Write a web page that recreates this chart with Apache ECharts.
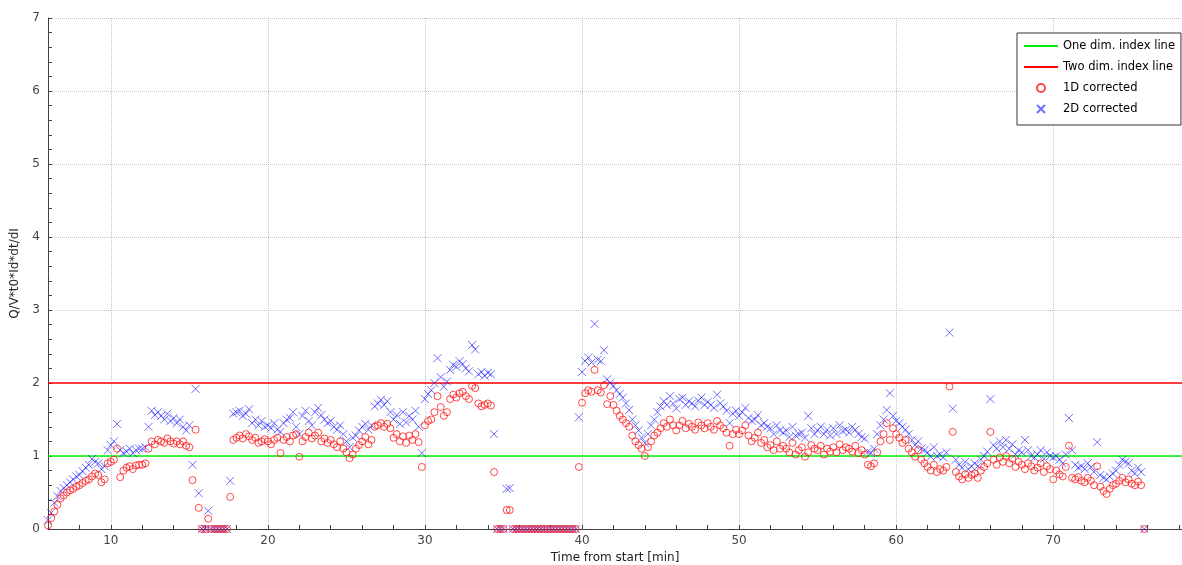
<!DOCTYPE html>
<html>
<head>
<meta charset="utf-8">
<script src="https://cdn.jsdelivr.net/npm/echarts@6/dist/echarts.min.js"></script>
<style>
html,body{margin:0;padding:0;background:#fff;overflow:hidden;}
#chart{width:1182px;height:565px;}
</style>
</head>
<body>
<div id="chart"></div>
<script>
// ---- data ----
const xRange = [6, 78.2];
const yRange = [0, 7];
const oneDimLevel = 1;
const twoDimLevel = 2;
const legendNames = ['One dim. index line', 'Two dim. index line', '1D corrected', '2D corrected'];
const xAxisTitle = 'Time from start [min]';
const yAxisTitle = 'Q/V*t0*Id*dt/dI';

const time = [
 6.0,6.2,6.4,6.6,6.8, 7.0,7.2,7.4,7.6,7.8, 8.0,8.2,8.4,8.6,8.8, 9.0,9.2,9.4,9.6,9.8,
 10.0,10.2,10.4,10.6,10.8, 11.0,11.2,11.4,11.6,11.8, 12.0,12.2,12.4,12.6,12.8, 13.0,13.2,13.4,13.6,13.8,
 14.0,14.2,14.4,14.6,14.8, 15.0,15.2,15.4,15.6,15.8, 16.0,16.2,16.4,16.6,16.8, 17.0,17.2,17.4,17.6,17.8,
 18.0,18.2,18.4,18.6,18.8, 19.0,19.2,19.4,19.6,19.8, 20.0,20.2,20.4,20.6,20.8, 21.0,21.2,21.4,21.6,21.8,
 22.0,22.2,22.4,22.6,22.8, 23.0,23.2,23.4,23.6,23.8, 24.0,24.2,24.4,24.6,24.8, 25.0,25.2,25.4,25.6,25.8,
 26.0,26.2,26.4,26.6,26.8, 27.0,27.2,27.4,27.6,27.8, 28.0,28.2,28.4,28.6,28.8, 29.0,29.2,29.4,29.6,29.8,
 30.0,30.2,30.4,30.6,30.8, 31.0,31.2,31.4,31.6,31.8, 32.0,32.2,32.4,32.6,32.8, 33.0,33.2,33.4,33.6,33.8,
 34.0,34.2,34.4,34.6,34.8, 35.0,35.2,35.4,35.6,35.8, 36.0,36.2,36.4,36.6,36.8, 37.0,37.2,37.4,37.6,37.8,
 38.0,38.2,38.4,38.6,38.8, 39.0,39.2,39.4,39.6,39.8, 40.0,40.2,40.4,40.6,40.8, 41.0,41.2,41.4,41.6,41.8,
 42.0,42.2,42.4,42.6,42.8, 43.0,43.2,43.4,43.6,43.8, 44.0,44.2,44.4,44.6,44.8, 45.0,45.2,45.4,45.6,45.8,
 46.0,46.2,46.4,46.6,46.8, 47.0,47.2,47.4,47.6,47.8, 48.0,48.2,48.4,48.6,48.8, 49.0,49.2,49.4,49.6,49.8,
 50.0,50.2,50.4,50.6,50.8, 51.0,51.2,51.4,51.6,51.8, 52.0,52.2,52.4,52.6,52.8, 53.0,53.2,53.4,53.6,53.8,
 54.0,54.2,54.4,54.6,54.8, 55.0,55.2,55.4,55.6,55.8, 56.0,56.2,56.4,56.6,56.8, 57.0,57.2,57.4,57.6,57.8,
 58.0,58.2,58.4,58.6,58.8, 59.0,59.2,59.4,59.6,59.8, 60.0,60.2,60.4,60.6,60.8, 61.0,61.2,61.4,61.6,61.8,
 62.0,62.2,62.4,62.6,62.8, 63.0,63.2,63.4,63.6,63.8, 64.0,64.2,64.4,64.6,64.8, 65.0,65.2,65.4,65.6,65.8,
 66.0,66.2,66.4,66.6,66.8, 67.0,67.2,67.4,67.6,67.8, 68.0,68.2,68.4,68.6,68.8, 69.0,69.2,69.4,69.6,69.8,
 70.0,70.2,70.4,70.6,70.8, 71.0,71.2,71.4,71.6,71.8, 72.0,72.2,72.4,72.6,72.8, 73.0,73.2,73.4,73.6,73.8,
 74.0,74.2,74.4,74.6,74.8, 75.0,75.2,75.4,75.6,75.8
];

const corrected1D = [
 0.05,0.15,0.24,0.33,0.42, 0.46,0.50,0.53,0.55,0.58, 0.60,0.63,0.66,0.68,0.72, 0.76,0.74,0.64,0.68,0.90,
 0.92,0.95,1.10,0.71,0.80, 0.84,0.86,0.82,0.87,0.88, 0.88,0.90,1.10,1.20,1.16, 1.22,1.20,1.18,1.24,1.20,
 1.17,1.20,1.16,1.20,1.14, 1.12,0.67,1.36,0.29,0.00, 0.00,0.14,0.00,0.00,0.00, 0.00,0.00,0.00,0.44,1.22,
 1.25,1.28,1.24,1.30,1.27, 1.22,1.25,1.18,1.20,1.23, 1.20,1.16,1.22,1.25,1.04, 1.22,1.26,1.20,1.28,1.30,
 0.99,1.20,1.26,1.32,1.24, 1.28,1.32,1.20,1.24,1.18, 1.22,1.16,1.12,1.20,1.10, 1.05,0.97,1.02,1.10,1.15,
 1.20,1.26,1.16,1.22,1.40, 1.42,1.45,1.40,1.44,1.38, 1.25,1.30,1.20,1.27,1.18, 1.28,1.22,1.30,1.19,0.85,
 1.42,1.48,1.50,1.60,1.82, 1.67,1.55,1.60,1.78,1.84, 1.80,1.86,1.88,1.82,1.78, 1.96,1.93,1.72,1.68,1.70,
 1.72,1.69,0.78,0.00,0.00, 0.00,0.26,0.26,0.00,0.00, 0.00,0.00,0.00,0.00,0.00, 0.00,0.00,0.00,0.00,0.00,
 0.00,0.00,0.00,0.00,0.00, 0.00,0.00,0.00,0.00,0.85, 1.73,1.86,1.90,1.88,2.18, 1.90,1.87,1.97,1.71,1.82,
 1.70,1.62,1.55,1.50,1.45, 1.40,1.28,1.20,1.15,1.10, 1.00,1.12,1.20,1.28,1.32, 1.38,1.45,1.40,1.50,1.42,
 1.35,1.42,1.48,1.38,1.44, 1.40,1.36,1.46,1.42,1.38, 1.45,1.40,1.36,1.48,1.42, 1.38,1.32,1.14,1.30,1.36,
 1.30,1.35,1.42,1.28,1.20, 1.25,1.32,1.18,1.22,1.12, 1.15,1.08,1.20,1.10,1.14, 1.10,1.05,1.18,1.02,1.08,
 1.12,0.99,1.05,1.15,1.10, 1.08,1.14,1.02,1.10,1.06, 1.12,1.05,1.16,1.08,1.12, 1.10,1.06,1.14,1.04,1.08,
 1.02,0.88,0.86,0.90,1.05, 1.20,1.30,1.45,1.22,1.38, 1.30,1.25,1.18,1.22,1.10, 1.05,0.99,1.08,0.95,0.90,
 0.85,0.80,0.88,0.78,0.82, 0.80,0.85,1.95,1.33,0.78, 0.72,0.68,0.75,0.70,0.74, 0.76,0.70,0.80,0.85,0.90,
 1.33,0.95,0.88,0.98,0.92, 1.00,0.90,0.96,0.85,0.92, 0.88,0.82,0.90,0.86,0.80, 0.84,0.90,0.78,0.86,0.82,
 0.68,0.80,0.75,0.72,0.85, 1.14,0.70,0.68,0.71,0.66, 0.64,0.70,0.66,0.60,0.86, 0.58,0.52,0.48,0.55,0.60,
 0.62,0.66,0.70,0.64,0.68, 0.62,0.60,0.65,0.60,0.00
];

const corrected2D = [
 0.12,0.22,0.36,0.45,0.52, 0.56,0.60,0.64,0.68,0.72, 0.74,0.79,0.84,0.88,0.96, 0.92,0.90,0.82,0.86,1.08,
 1.15,1.20,1.44,1.08,1.04, 1.06,1.10,1.04,1.08,1.10, 1.10,1.12,1.40,1.62,1.56, 1.60,1.55,1.50,1.58,1.48,
 1.52,1.45,1.50,1.40,1.35, 1.42,0.88,1.92,0.49,0.00, 0.00,0.25,0.00,0.00,0.00, 0.00,0.00,0.00,0.66,1.58,
 1.60,1.62,1.55,1.58,1.64, 1.45,1.50,1.42,1.48,1.40, 1.42,1.38,1.45,1.36,1.33, 1.45,1.50,1.52,1.60,1.40,
 1.30,1.55,1.62,1.48,1.42, 1.60,1.66,1.56,1.50,1.45, 1.48,1.40,1.36,1.42,1.30, 1.20,1.12,1.25,1.28,1.35,
 1.40,1.44,1.36,1.42,1.68, 1.72,1.77,1.70,1.75,1.60, 1.50,1.56,1.44,1.60,1.46, 1.55,1.50,1.62,1.40,1.04,
 1.78,1.85,1.90,2.00,2.34, 2.08,1.95,2.02,2.18,2.25, 2.22,2.30,2.26,2.20,2.16, 2.52,2.46,2.12,2.15,2.10,
 2.14,2.12,1.30,0.00,0.00, 0.00,0.55,0.56,0.00,0.00, 0.00,0.00,0.00,0.00,0.00, 0.00,0.00,0.00,0.00,0.00,
 0.00,0.00,0.00,0.00,0.00, 0.00,0.00,0.00,0.00,1.53, 2.15,2.30,2.35,2.28,2.81, 2.32,2.30,2.45,2.05,2.00,
 1.96,1.90,1.85,1.80,1.72, 1.63,1.50,1.42,1.35,1.25, 1.18,1.30,1.42,1.50,1.60, 1.68,1.75,1.70,1.82,1.72,
 1.65,1.78,1.80,1.70,1.75, 1.72,1.68,1.76,1.80,1.70, 1.74,1.70,1.66,1.84,1.72, 1.68,1.62,1.45,1.58,1.62,
 1.55,1.60,1.66,1.52,1.48, 1.50,1.56,1.42,1.45,1.40, 1.38,1.30,1.42,1.35,1.32, 1.35,1.26,1.40,1.28,1.30,
 1.32,1.25,1.55,1.38,1.30, 1.35,1.40,1.30,1.36,1.28, 1.38,1.30,1.42,1.34,1.36, 1.32,1.40,1.36,1.30,1.26,
 1.24,1.06,1.04,1.10,1.30, 1.42,1.50,1.63,1.86,1.55, 1.48,1.45,1.40,1.36,1.30, 1.22,1.15,1.20,1.10,1.08,
 1.05,0.99,1.12,1.00,1.02, 0.98,1.05,2.69,1.65,0.95, 0.88,0.84,0.92,0.82,0.86, 0.90,0.86,0.95,1.00,1.06,
 1.78,1.15,1.10,1.20,1.12, 1.22,1.10,1.16,1.02,1.08, 1.05,1.22,1.08,1.00,0.98, 1.02,1.08,0.96,1.05,1.00,
 0.98,1.00,0.95,0.90,1.02, 1.52,1.08,0.88,0.84,0.86, 0.82,0.90,0.85,0.78,1.19, 0.74,0.70,0.68,0.72,0.76,
 0.80,0.88,0.95,0.92,0.90, 0.80,0.76,0.84,0.78,0.00
];

// ---- chart ----
const chart = echarts.init(document.getElementById('chart'), null, {renderer: 'canvas'});
const font = 'DejaVu Sans';
const crossPath = 'path://M0,0L10,10M10,0L0,10';
const hiddenDot = {color: 'rgba(0,0,0,0)', borderWidth: 0, opacity: 0};

const option = {
  animation: false,
  backgroundColor: '#ffffff',
  grid: {left: 48, right: 0, top: 18, bottom: 36, containLabel: false, outerBoundsMode: 'none'},
  legend: {
    orient: 'vertical',
    left: 1017, top: 33,
    padding: [7, 6, 10, 6],
    itemWidth: 34, itemHeight: 8, itemGap: 9,
    backgroundColor: '#ffffff',
    borderColor: '#333333', borderWidth: 1, borderRadius: 0,
    textStyle: {fontFamily: font, fontSize: 11.5, color: '#000000'},
    data: [
      {name: legendNames[0], itemStyle: hiddenDot},
      {name: legendNames[1], itemStyle: hiddenDot},
      {name: legendNames[2]},
      {name: legendNames[3]}
    ]
  },
  xAxis: {
    type: 'value',
    min: xRange[0], max: xRange[1], interval: 2,
    name: xAxisTitle, nameLocation: 'middle', nameGap: 23,
    nameTextStyle: {fontFamily: font, fontSize: 12, color: '#222'},
    axisLine: {show: true, onZero: false, lineStyle: {color: '#404040', width: 1}},
    axisTick: {show: true, inside: true, length: 4, lineStyle: {color: '#404040'}},
    minorTick: {show: false},
    axisLabel: {
      fontFamily: font, fontSize: 12, color: '#444', margin: 6,
      showMinLabel: false, showMaxLabel: false,
      formatter: v => (Math.abs(v % 10) < 1e-9 ? String(v) : '')
    },
    splitLine: {
      show: true, showMaxLine: false,
      lineStyle: {type: 'dotted', width: 1,
        color: ['rgba(0,0,0,0)', 'rgba(0,0,0,0)', '#c4c4c4', 'rgba(0,0,0,0)', 'rgba(0,0,0,0)']}
    }
  },
  yAxis: {
    type: 'value',
    min: yRange[0], max: yRange[1], interval: 1,
    name: yAxisTitle, nameLocation: 'middle', nameGap: 27, nameRotate: 90,
    nameTextStyle: {fontFamily: font, fontSize: 12, color: '#222'},
    axisLine: {show: true, lineStyle: {color: '#404040', width: 1}},
    axisTick: {show: true, inside: true, length: 4, lineStyle: {color: '#404040'}},
    minorTick: {show: true, splitNumber: 5, length: 4, lineStyle: {color: '#404040'}},
    axisLabel: {fontFamily: font, fontSize: 12, color: '#444', margin: 8},
    splitLine: {show: true, lineStyle: {type: 'dotted', color: '#c4c4c4', width: 1}}
  },
  series: [
    {
      name: legendNames[0], type: 'line', symbol: 'none', z: 2,
      lineStyle: {color: '#00f000', width: 1.3}, itemStyle: {color: '#00f000'},
      data: [[xRange[0], oneDimLevel], [xRange[1], oneDimLevel]]
    },
    {
      name: legendNames[1], type: 'line', symbol: 'none', z: 2,
      lineStyle: {color: '#ff0000', width: 1.3}, itemStyle: {color: '#ff0000'},
      data: [[xRange[0], twoDimLevel], [xRange[1], twoDimLevel]]
    },
    {
      name: legendNames[3], type: 'scatter', symbol: crossPath, symbolSize: 8, z: 3,
      itemStyle: {color: 'rgba(0,0,0,0)', borderColor: 'rgba(30,30,255,0.8)', borderWidth: 1},
      data: time.map((t, i) => [t, corrected2D[i]])
    },
    {
      name: legendNames[2], type: 'scatter', symbol: 'circle', symbolSize: 7, z: 4,
      itemStyle: {color: 'rgba(0,0,0,0)', borderColor: '#ff1a1a', borderWidth: 1},
      data: time.map((t, i) => [t, corrected1D[i]])
    }
  ]
};
chart.setOption(option);
</script>
</body>
</html>
